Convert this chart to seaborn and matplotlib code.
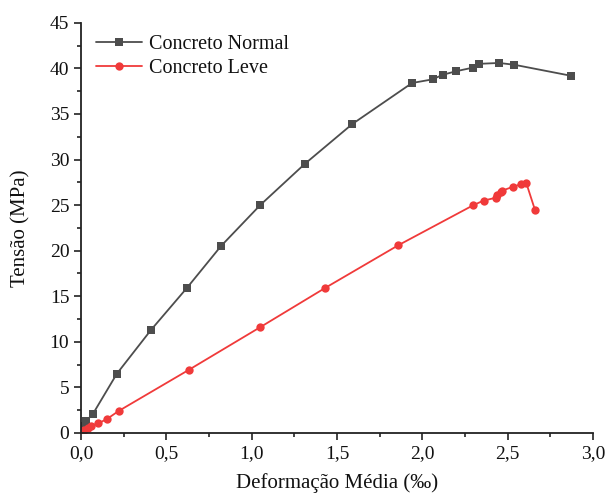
import numpy as np
import pandas as pd
import seaborn as sns
import matplotlib.pyplot as plt
from matplotlib.ticker import MultipleLocator, FuncFormatter

# Concreto Normal
normal_x = [0.0, 0.02, 0.03, 0.07, 0.21, 0.41, 0.62, 0.82, 1.05, 1.31, 1.59,
            1.94, 2.06, 2.12, 2.20, 2.30, 2.33, 2.45, 2.54, 2.87]
normal_y = [0.0, 0.8, 1.3, 2.1, 6.5, 11.3, 15.9, 20.5, 25.0, 29.5, 33.9,
            38.4, 38.8, 39.3, 39.7, 40.1, 40.5, 40.6, 40.4, 39.2]

# Concreto Leve
leve_x = [0.0, 0.02, 0.04, 0.06, 0.10, 0.15, 0.22, 0.63, 1.05, 1.43, 1.86,
          2.30, 2.36, 2.43, 2.44, 2.46, 2.47, 2.53, 2.58, 2.61, 2.66]
leve_y = [0.0, 0.27, 0.5, 0.77, 1.05, 1.5, 2.4, 6.9, 11.6, 15.9, 20.6,
          25.0, 25.5, 25.8, 26.1, 26.4, 26.6, 27.0, 27.3, 27.4, 24.5]

labels = ["Concreto Normal", "Concreto Leve"]

df = pd.concat([
    pd.DataFrame({"x": normal_x, "y": normal_y, "serie": labels[0]}),
    pd.DataFrame({"x": leve_x, "y": leve_y, "serie": labels[1]}),
])

sns.set_style("ticks")
plt.rcParams["font.family"] = ["Liberation Serif", "DejaVu Serif"]

fig = plt.figure(figsize=(6.05, 4.97), dpi=100)
ax = fig.add_axes([0.134, 0.129, 0.846, 0.825])

sns.lineplot(
    data=df, x="x", y="y", hue="serie", style="serie",
    markers={labels[0]: "s", labels[1]: "o"}, dashes=False, sort=False,
    palette={labels[0]: "#4d4d4d", labels[1]: "#f03a3a"},
    markersize=6, markeredgewidth=0, linewidth=1.3, ax=ax,
)

ax.set_xlim(0, 3.0)
ax.set_ylim(0, 45)
ax.xaxis.set_major_locator(MultipleLocator(0.5))
ax.xaxis.set_minor_locator(MultipleLocator(0.25))
ax.yaxis.set_major_locator(MultipleLocator(5))
ax.yaxis.set_minor_locator(MultipleLocator(2.5))
ax.xaxis.set_major_formatter(FuncFormatter(lambda v, p: f"{v:.1f}".replace(".", ",")))
ax.tick_params(which="major", length=5, width=1.2, labelsize=14, color="#222222",
               labelcolor="#111111")
ax.tick_params(which="minor", length=3, width=1.2, color="#222222")
for s in ["left", "bottom"]:
    ax.spines[s].set_linewidth(1.3)
    ax.spines[s].set_color("#222222")
sns.despine(ax=ax)

ax.set_xlabel("Deformação Média (‰)", fontsize=15, labelpad=8, color="#111111")
ax.set_ylabel("Tensão (MPa)", fontsize=15, labelpad=14, color="#111111")

leg = ax.legend(loc="upper left", frameon=False, fontsize=14.5,
                bbox_to_anchor=(0.005, 1.0), handlelength=2.3, handletextpad=0.35,
                borderaxespad=0.2, labelspacing=0.22)
for t in leg.get_texts():
    t.set_color("#111111")

fig.savefig("out.png", dpi=100)
